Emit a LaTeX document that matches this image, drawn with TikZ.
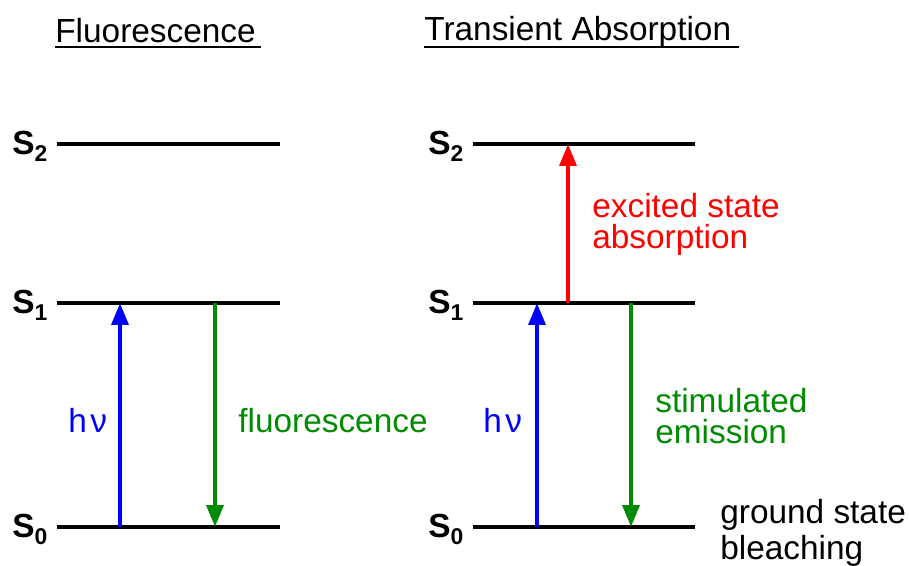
\documentclass[tikz,border=0pt]{standalone}
\usepackage{fontspec}
\setmainfont{Liberation Sans}
\usetikzlibrary{arrows.meta}
\definecolor{emgreen}{RGB}{0,140,0}
\newcommand{\slvl}[1]{\textbf{S\raisebox{-4.5pt}{\fontsize{13}{13}\selectfont #1}}}

\begin{document}
\begin{tikzpicture}[x=0.02cm,y=-0.02cm]
        \tikzset{
        level/.style={line width=2.4pt},
        txt/.style={anchor=base west, inner sep=0pt, font=\fontsize{19}{17.5}\selectfont},
        stlbl/.style={anchor=base west, inner sep=0pt, font=\fontsize{19}{19}\selectfont},
        uline/.style={line width=1.1pt},
        trans/.style={line width=2.4pt, -{Triangle[length=12.5pt, width=9.5pt]}},
        up/.style={trans, blue},
        down/.style={trans, emgreen},
        esa/.style={trans, red}
        }
        \useasboundingbox (0,0) rectangle (909,565);
        % titles
        \node[txt] (tfl) at (55,42) {Fluorescence};
        \node[txt] (tta) at (424,40) {Transient Absorption};
        \draw[uline] ([yshift=-2.9pt]tfl.base west) -- ([xshift=3pt,yshift=-2.9pt]tfl.base east);
        \draw[uline] ([yshift=-3.9pt]tta.base west) -- ([xshift=4pt,yshift=-3.9pt]tta.base east);
        % levels, fluorescence side
        \coordinate (l2a) at (57,144); \coordinate (l2b) at (280,144);
        \coordinate (l1a) at (57,303); \coordinate (l1b) at (280,303);
        \coordinate (l0a) at (57,527); \coordinate (l0b) at (280,527);
        \draw[level] (l2a) -- (l2b);
        \draw[level] (l1a) -- (l1b);
        \draw[level] (l0a) -- (l0b);
        \node[stlbl] (ls2) at (12,154) {\slvl{2}};
        \node[stlbl] (ls1) at (12,313) {\slvl{1}};
        \node[stlbl] (ls0) at (12,537) {\slvl{0}};
        % levels, transient absorption side
        \coordinate (r2a) at (473,144); \coordinate (r2b) at (695,144);
        \coordinate (r1a) at (473,303); \coordinate (r1b) at (695,303);
        \coordinate (r0a) at (473,527); \coordinate (r0b) at (695,527);
        \draw[level] (r2a) -- (r2b);
        \draw[level] (r1a) -- (r1b);
        \draw[level] (r0a) -- (r0b);
        \node[stlbl] (rs2) at (428,154) {\slvl{2}};
        \node[stlbl] (rs1) at (428,313) {\slvl{1}};
        \node[stlbl] (rs0) at (428,537) {\slvl{0}};
        % transitions
        \coordinate (fx0) at (120,527); \coordinate (fx1) at (120,303);
        \coordinate (fl1) at (215,303); \coordinate (fl0) at (215,527);
        \coordinate (tx0) at (537,527); \coordinate (tx1) at (537,303);
        \coordinate (ta1) at (568,303); \coordinate (ta2) at (568,144);
        \coordinate (te1) at (631,303); \coordinate (te0) at (631,527);
        \draw[up] (fx0) -- (fx1);
        \draw[down] (fl1) -- (fl0);
        \draw[up] (tx0) -- (tx1);
        \draw[esa] (ta1) -- (ta2);
        \draw[down] (te1) -- (te0);
        % labels (base of a two-line node is its last line)
        \node[txt, blue] (hv1) at (68,432) {h\kern2ptν};
        \node[txt, emgreen] (flu) at (238,432) {fluorescence};
        \node[txt, blue] (hv2) at (483,432) {h\kern2ptν};
        \node[txt, red, align=left] (esl) at (592,248) {excited state\\absorption};
        \node[txt, emgreen, align=left] (sel) at (655,443) {stimulated\\emission};
        \node[txt, align=left, font=\fontsize{19}{20.4}\selectfont] (gsb) at (720,559) {ground state\\bleaching};
\end{tikzpicture}
\end{document}
